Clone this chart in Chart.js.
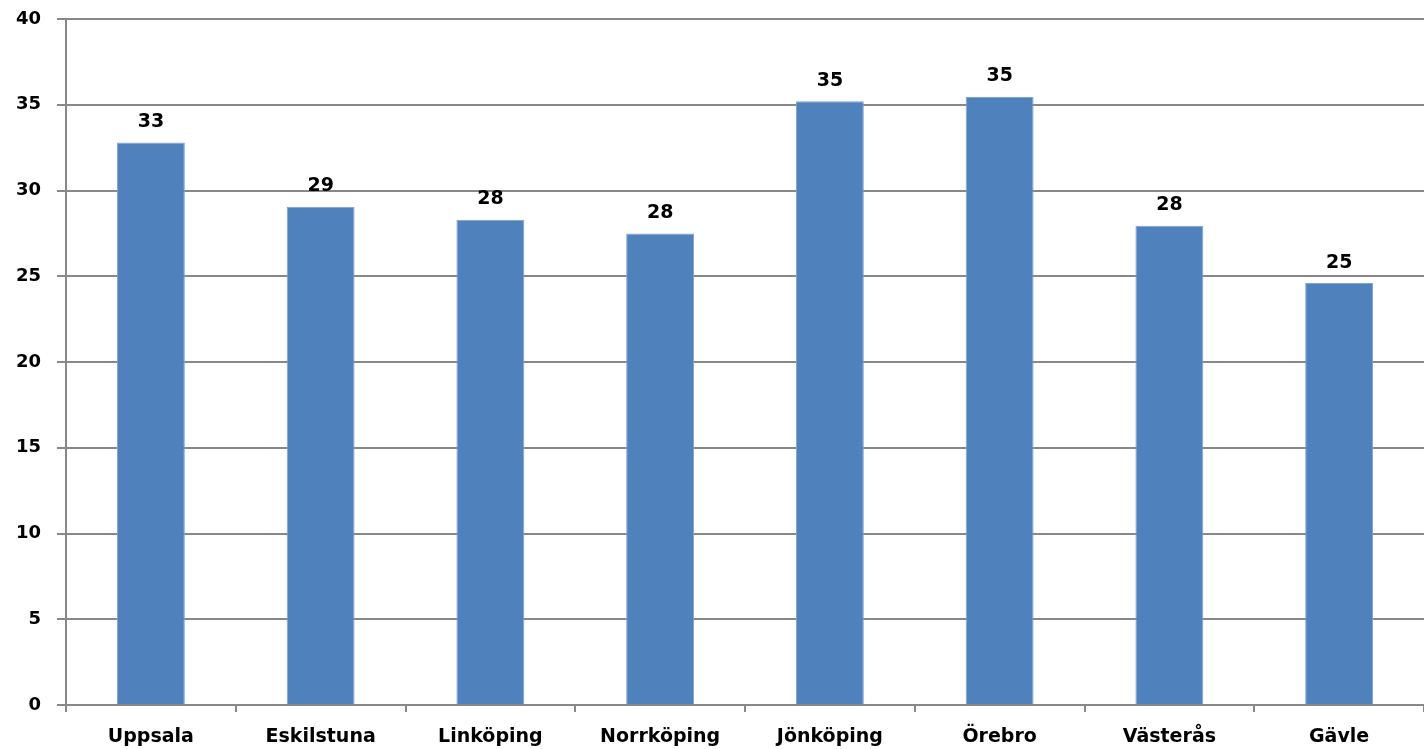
<!DOCTYPE html>
<html>
<head>
  <meta charset="utf-8">
  <title>Cities</title>
  <script src="https://cdn.jsdelivr.net/npm/chart.js@4.4.1/dist/chart.umd.min.js"></script>
  <style>
    body { margin: 0; background: #fff; }
    #wrap { width: 1424px; height: 749px; }
  </style>
</head>
<body>
  <div id="wrap"><canvas id="chart" width="1424" height="749"></canvas></div>
  <script>
    var cities = ["Uppsala", "Eskilstuna", "Linköping", "Norrköping", "Jönköping", "Örebro", "Västerås", "Gävle"];
    var values = [32.8, 29.05, 28.3, 27.5, 35.2, 35.45, 27.95, 24.6];
    var yTicks = [0, 5, 10, 15, 20, 25, 30, 35, 40];

    // numbers above the bars, rounded like the original
    var barLabels = {
      id: 'barLabels',
      afterDatasetsDraw: function(chart) {
        var ctx = chart.ctx;
        var meta = chart.getDatasetMeta(0);
        ctx.save();
        ctx.font = 'bold 19px "DejaVu Sans"';
        ctx.fillStyle = '#000';
        ctx.textAlign = 'center';
        ctx.textBaseline = 'bottom';
        meta.data.forEach(function(bar, i) {
          ctx.fillText(Math.round(values[i]), bar.x, bar.y - 11);
        });
        ctx.restore();
      }
    };

    var ctx = document.getElementById('chart');
    var chart = new Chart(ctx, {
      type: 'bar',
      data: {
        labels: cities,
        datasets: [{
          data: values,
          backgroundColor: '#4F81BD',
          borderColor: '#7FA3CF',
          borderWidth: 1,
          barPercentage: 0.4,
          categoryPercentage: 1
        }]
      },
      options: {
        responsive: false,
        animation: false,
        layout: { padding: { top: 19, right: 0, left: 0, bottom: 0 } },
        plugins: { legend: { display: false }, tooltip: { enabled: false } },
        scales: {
          x: {
            grid: { drawOnChartArea: false, offset: true, color: '#888', tickLength: 7, lineWidth: 2 },
            border: { color: '#888', width: 2 },
            ticks: { color: '#000', font: { family: 'DejaVu Sans', size: 19, weight: 'bold' }, padding: 14, maxRotation: 0 },
            afterFit: function(s) { s.height = 44; }
          },
          y: {
            min: 0,
            max: 40,
            afterBuildTicks: function(s) { s.ticks = yTicks.map(function(v) { return { value: v }; }); },
            grid: { color: '#888', lineWidth: 2, tickLength: 9 },
            border: { color: '#888', width: 2 },
            ticks: { color: '#000', font: { family: 'DejaVu Sans', size: 18, weight: 'bold' }, padding: 16 },
            afterFit: function(s) { s.width = 66; s.paddingTop = 11; s.paddingBottom = 11; }
          }
        }
      },
      plugins: [barLabels]
    });
  </script>
</body>
</html>
